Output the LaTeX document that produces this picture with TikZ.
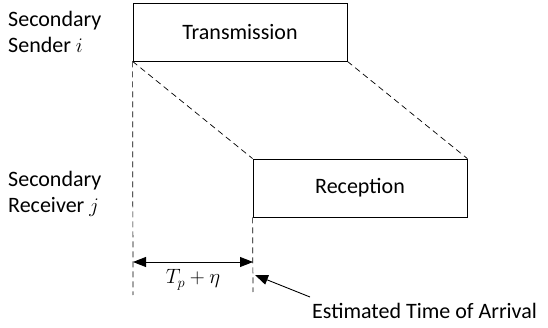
\documentclass[tikz,border=0pt]{standalone}
\usepackage{fontspec}
\setmainfont{Carlito}
\usetikzlibrary{arrows.meta}

\begin{document}
\begin{tikzpicture}[x=1pt,y=-1pt,font=\fontsize{22}{26}\selectfont,
  phase/.style={draw,line width=.8pt,minimum width=214pt,minimum height=58pt,inner sep=0pt},
  guide/.style={dash pattern=on 6pt off 4pt,line width=.7pt},
  tip/.style={-{Triangle[length=13pt,width=10pt]},line width=.9pt}]
\useasboundingbox (0,0) rectangle (548,328);
% the two phases
\node[phase] (tx) at (240,32) {Transmission};
\node[phase] (rx) at (360,188) {Reception};
\node[anchor=base west,align=left,inner sep=0pt] (snd) at (8,53) {Secondary\\Sender $i$};
\node[anchor=base west,align=left,inner sep=0pt] (rcv) at (8,213) {Secondary\\Receiver $j$};
% propagation
\draw[guide] (tx.south west) -- (rx.north west);
\draw[guide] (tx.south east) -- (rx.north east);
\coordinate (lo1) at (133,295);
\coordinate (lo2) at (253,292);
\draw[guide] (tx.south west) -- (lo1);
\draw[guide] (rx.south west) -- (lo2);
\coordinate (a1) at (133,262);
\coordinate (a2) at (253,262);
\draw[tip,{Triangle[length=13pt,width=10pt]}-{Triangle[length=13pt,width=10pt]}] (a1) -- node[below=4pt,font=\fontsize{20}{24}\selectfont] (gap) {$T_{p}+\eta$} (a2);
% arrival
\node[anchor=north west,inner sep=2pt] (eta) at (310,301) {Estimated Time of Arrival};
\coordinate (toa) at (255,275);
\draw[tip] ([yshift=4pt]eta.north west) -- (toa);
\end{tikzpicture}
\end{document}
